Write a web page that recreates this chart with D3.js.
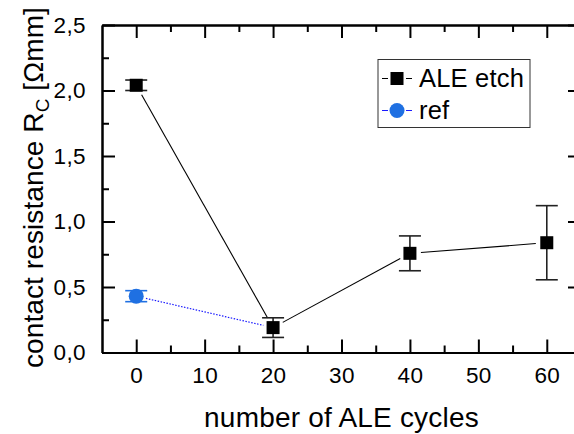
<!DOCTYPE html>
<html>
<head>
<meta charset="utf-8">
<script src="https://cdn.jsdelivr.net/npm/d3@7"></script>
<style>
  body { margin: 0; background: #fff; }
  svg { display: block; font-family: "Liberation Sans", Arial, sans-serif; }
</style>
</head>
<body>
<svg id="chart" width="574" height="434"></svg>
<script>
// ALE etched samples
var aleCycles = [0, 20, 40, 60]
var aleRc     = [2.04, 0.19, 0.757, 0.838]
var aleErr    = [0.04, 0.075, 0.133, 0.283]

// reference sample (linked to the 20-cycle ALE point by a dotted line)
var refCycles = [0]
var refRc     = [0.43]
var refErr    = [0.042]

var xMajor = [0, 10, 20, 30, 40, 50, 60]
var xMinor = [5, 15, 25, 35, 45, 55]
var yMajor = [0, 0.5, 1.0, 1.5, 2.0, 2.5]
var yMinor = [0.25, 0.75, 1.25, 1.75, 2.25]

var seriesNames = ['ALE etch', 'ref']

var blue = '#1f70e2'

var svg = d3.select('#chart')
var plotL = 102, plotR = 581, plotT = 25, plotB = 352.5

var x = d3.scaleLinear().domain([-5, 65]).range([plotL, plotR])
var y = d3.scaleLinear().domain([0, 2.5]).range([plotB, plotT])
var fmt = function (d) { return d3.format('.1f')(d).replace('.', ',') }

function styleAxis(g) {
  g.attr('font-size', null).attr('font-family', null)
  g.select('.domain').attr('stroke', '#000').attr('stroke-width', 2)
  g.selectAll('.tick line').attr('stroke', '#000').attr('stroke-width', 2)
  g.selectAll('.tick text').attr('fill', '#000')
    .style('font-size', '22.5px').style('letter-spacing', '0.4px')
}

// major + minor ticks, all pointing inward
svg.append('g').attr('transform', 'translate(0,' + plotB + ')')
  .call(d3.axisBottom(x).tickValues(xMajor).tickFormat(d3.format('d'))
    .tickSizeInner(-13).tickSizeOuter(0).tickPadding(15))
  .call(styleAxis)
svg.append('g').attr('transform', 'translate(0,' + plotB + ')')
  .call(d3.axisBottom(x).tickValues(xMinor).tickFormat('').tickSizeInner(-7).tickSizeOuter(0))
  .call(styleAxis)
svg.append('g').attr('transform', 'translate(0,' + plotT + ')')
  .call(d3.axisTop(x).tickValues(xMajor).tickFormat('').tickSizeInner(-13).tickSizeOuter(0))
  .call(styleAxis)
svg.append('g').attr('transform', 'translate(0,' + plotT + ')')
  .call(d3.axisTop(x).tickValues(xMinor).tickFormat('').tickSizeInner(-7).tickSizeOuter(0))
  .call(styleAxis)

svg.append('g').attr('transform', 'translate(' + plotL + ',0)')
  .call(d3.axisLeft(y).tickValues(yMajor).tickFormat(fmt)
    .tickSizeInner(-13).tickSizeOuter(0).tickPadding(16))
  .call(styleAxis)
svg.append('g').attr('transform', 'translate(' + plotL + ',0)')
  .call(d3.axisLeft(y).tickValues(yMinor).tickFormat('').tickSizeInner(-7).tickSizeOuter(0))
  .call(styleAxis)
svg.append('g').attr('transform', 'translate(' + plotR + ',0)')
  .call(d3.axisRight(y).tickValues(yMajor).tickFormat('').tickSizeInner(-13).tickSizeOuter(0))
  .call(styleAxis)
svg.append('g').attr('transform', 'translate(' + plotR + ',0)')
  .call(d3.axisRight(y).tickValues(yMinor).tickFormat('').tickSizeInner(-7).tickSizeOuter(0))
  .call(styleAxis)

// axis titles
svg.append('text')
  .attr('x', (plotL + plotR) / 2).attr('y', 427)
  .attr('text-anchor', 'middle')
  .style('font-size', '28px').style('letter-spacing', '0.2px')
  .text('number of ALE cycles')

var yt = svg.append('text')
  .attr('transform', 'translate(43,187.5) rotate(-90)')
  .attr('text-anchor', 'middle')
  .style('font-size', '28px').style('letter-spacing', '0.1px')
yt.append('tspan').text('contact resistance R')
yt.append('tspan').attr('dy', 6).style('font-size', '19px').text('C')
yt.append('tspan').attr('dy', -6).text(' [\u03a9mm]')

// a segment between two pixel points, shortened at both ends (marker gap)
function gapSegment(p, q, gap) {
  var dx = q[0] - p[0], dy = q[1] - p[1], len = Math.sqrt(dx * dx + dy * dy)
  var ux = dx / len, uy = dy / len
  return [[p[0] + ux * gap, p[1] + uy * gap], [q[0] - ux * gap, q[1] - uy * gap]]
}

var ale = aleCycles.map(function (c, i) { return { x: c, y: aleRc[i], e: aleErr[i] } })
var ref = refCycles.map(function (c, i) { return { x: c, y: refRc[i], e: refErr[i] } })

function px(d) { return [x(d.x), y(d.y)] }

// connecting lines
var aleSegs = d3.pairs(ale).map(function (p) { return gapSegment(px(p[0]), px(p[1]), 11) })
svg.append('g').selectAll('line').data(aleSegs).join('line')
  .attr('x1', function (s) { return s[0][0] }).attr('y1', function (s) { return s[0][1] })
  .attr('x2', function (s) { return s[1][0] }).attr('y2', function (s) { return s[1][1] })
  .attr('stroke', '#000').attr('stroke-width', 1.1)

var refSeg = gapSegment(px(ref[0]), px(ale[1]), 10)
svg.append('line')
  .attr('x1', refSeg[0][0]).attr('y1', refSeg[0][1])
  .attr('x2', refSeg[1][0]).attr('y2', refSeg[1][1])
  .attr('stroke', '#1a1aff').attr('stroke-width', 1.2).attr('stroke-dasharray', '1.5,1.5')

// error bars
function errorBars(data, color) {
  var g = svg.append('g').attr('stroke', color).attr('stroke-width', 1.6)
  var bars = g.selectAll('g').data(data).join('g')
  bars.append('line')
    .attr('x1', function (d) { return x(d.x) }).attr('x2', function (d) { return x(d.x) })
    .attr('y1', function (d) { return y(d.y - d.e) }).attr('y2', function (d) { return y(d.y + d.e) })
  bars.append('line')
    .attr('x1', function (d) { return x(d.x) - 11 }).attr('x2', function (d) { return x(d.x) + 11 })
    .attr('y1', function (d) { return y(d.y + d.e) }).attr('y2', function (d) { return y(d.y + d.e) })
  bars.append('line')
    .attr('x1', function (d) { return x(d.x) - 11 }).attr('x2', function (d) { return x(d.x) + 11 })
    .attr('y1', function (d) { return y(d.y - d.e) }).attr('y2', function (d) { return y(d.y - d.e) })
}
errorBars(ale, '#222')
errorBars(ref, blue)

// markers
svg.append('g').selectAll('rect').data(ale).join('rect')
  .attr('x', function (d) { return x(d.x) - 6.5 }).attr('y', function (d) { return y(d.y) - 6.5 })
  .attr('width', 13).attr('height', 13).attr('fill', '#000')
svg.append('g').selectAll('circle').data(ref).join('circle')
  .attr('cx', function (d) { return x(d.x) }).attr('cy', function (d) { return y(d.y) })
  .attr('r', 7.5).attr('fill', blue)

// legend
var lg = svg.append('g')
lg.append('rect').attr('x', 378).attr('y', 59.5).attr('width', 152).attr('height', 68)
  .attr('fill', '#fff').attr('stroke', '#333').attr('stroke-width', 1)
var rows = lg.selectAll('g.row').data(seriesNames).join('g').attr('class', 'row')
  .attr('transform', function (d, i) { return 'translate(397,' + (78.5 + i * 32) + ')' })
rows.append('line').attr('x1', -15).attr('x2', -9).attr('stroke', function (d, i) { return i ? '#1a1aff' : '#000' })
rows.append('line').attr('x1', 9).attr('x2', 15).attr('stroke', function (d, i) { return i ? '#1a1aff' : '#000' })
rows.filter(function (d, i) { return i === 0 }).append('rect')
  .attr('x', -6.5).attr('y', -6.5).attr('width', 13).attr('height', 13).attr('fill', '#000')
rows.filter(function (d, i) { return i === 1 }).append('circle')
  .attr('r', 7.5).attr('fill', blue)
rows.append('text').attr('x', 22).attr('dy', '0.35em')
  .style('font-size', '25.5px').style('letter-spacing', '0.2px')
  .text(function (d) { return d })
</script>
</body>
</html>
